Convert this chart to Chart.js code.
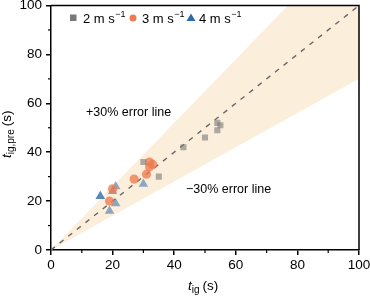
<!DOCTYPE html>
<html><head><meta charset="utf-8">
<script src="https://cdn.jsdelivr.net/npm/chart.js@4.4.1/dist/chart.umd.min.js"></script>
<style>html,body{margin:0;padding:0;background:#fff}#wrap{width:370px;height:296px}</style>
</head><body><div id="wrap"><canvas id="c" width="370" height="296"></canvas></div>
<script>
const seriesNames = ['2 m s', '3 m s', '4 m s'];
const tig2 = [30, 35, 43, 50, 54, 55, 54];
const pre2 = [36, 30, 42, 46, 52, 51, 49];
const tig3 = [19, 20, 27, 31, 32, 32, 33];
const pre3 = [20, 25, 29, 31, 34, 36, 35];
const tig4 = [16, 16, 19, 20, 21, 21, 30];
const pre4 = [22, 22, 16, 24, 26, 19, 27];
const bandX = [0, 100];
const upperFactor = 1.3, lowerFactor = 0.7;
const xTicks = [0, 20, 40, 60, 80, 100];
const yTicks = [0, 20, 40, 60, 80, 100];

const pts = (xs, ys) => xs.map((x, i) => ({x, y: ys[i]}));
const FONT = '"Liberation Sans", Arial, sans-serif';
const colSq = '#7a7a7a', colCi = '#ee7b50', colTr = '#2f6aaa';

const extras = {
  id: 'extras',
  afterDraw(chart) {
    const {ctx, chartArea: a, scales: {x, y}} = chart;
    ctx.save();
    ctx.strokeStyle = '#000'; ctx.lineWidth = 1.5;
    ctx.beginPath();
    ctx.moveTo(a.left, a.top); ctx.lineTo(a.right, a.top); ctx.lineTo(a.right, a.bottom);
    ctx.stroke();
    ctx.lineWidth = 1.2;
    for (let v = 10; v < 100; v += 20) {
      const px = x.getPixelForValue(v);
      ctx.beginPath(); ctx.moveTo(px, a.bottom); ctx.lineTo(px, a.bottom + 3); ctx.stroke();
      const py = y.getPixelForValue(v);
      ctx.beginPath(); ctx.moveTo(a.left, py); ctx.lineTo(a.left - 3, py); ctx.stroke();
    }
    ctx.fillStyle = '#000';
    ctx.textBaseline = 'alphabetic';
    ctx.font = '12.5px ' + FONT;
    ctx.fillText('+30% error line', 86, 116);
    ctx.fillText('\u221230% error line', 186, 193);
    const items = [
      {cx: 73, tx: 83, name: seriesNames[0], type: 'sq', col: colSq},
      {cx: 133, tx: 142, name: seriesNames[1], type: 'ci', col: colCi},
      {cx: 191, tx: 199, name: seriesNames[2], type: 'tr', col: colTr}
    ];
    const ly = 18;
    items.forEach(it => {
      ctx.fillStyle = it.col;
      if (it.type === 'sq') ctx.fillRect(it.cx - 3, ly - 3.5, 6.5, 6.5);
      else if (it.type === 'ci') { ctx.beginPath(); ctx.arc(it.cx, ly, 3.5, 0, Math.PI * 2); ctx.fill(); }
      else { ctx.beginPath(); ctx.moveTo(it.cx, ly - 4.5); ctx.lineTo(it.cx + 4.5, ly + 3); ctx.lineTo(it.cx - 4.5, ly + 3); ctx.closePath(); ctx.fill(); }
      ctx.fillStyle = '#000';
      ctx.font = '13px ' + FONT;
      ctx.fillText(it.name, it.tx, ly + 5);
      const w = ctx.measureText(it.name).width;
      ctx.font = '9px ' + FONT;
      ctx.fillText('\u22121', it.tx + w + 0.5, ly - 1);
    });
    ctx.font = 'italic 13.5px ' + FONT;
    let xx = 188;
    ctx.fillText('t', xx, 290);
    xx += ctx.measureText('t').width;
    ctx.font = '10px ' + FONT;
    ctx.fillText('ig', xx, 293);
    xx += ctx.measureText('ig').width + 2;
    ctx.font = '13.5px ' + FONT;
    ctx.fillText('(s)', xx + 1, 290);
    ctx.translate(11, 158);
    ctx.rotate(-Math.PI / 2);
    let yy = 0;
    ctx.font = 'italic 13.5px ' + FONT;
    ctx.fillText('t', yy, 0);
    yy += ctx.measureText('t').width;
    ctx.font = '10px ' + FONT;
    ctx.fillText('ig,pre', yy, 3);
    yy += ctx.measureText('ig,pre').width + 2;
    ctx.font = '13.5px ' + FONT;
    ctx.fillText('(s)', yy + 1, 0);
    ctx.restore();
  }
};

new Chart(document.getElementById('c'), {
  type: 'scatter',
  data: {
    datasets: [
      {label: '2', data: pts(tig2, pre2), pointStyle: 'rect', pointRadius: 4.3, backgroundColor: 'rgba(122,122,122,0.62)', borderWidth: 0, order: 0},
      {label: '3', data: pts(tig3, pre3), pointStyle: 'circle', pointRadius: 4.6, backgroundColor: 'rgba(238,123,80,0.78)', borderWidth: 0, order: 0},
      {label: '4', data: pts(tig4, pre4), pointStyle: 'triangle', pointRadius: 5.5, backgroundColor: 'rgba(47,106,170,0.55)', borderWidth: 0, order: 0},
      {type: 'line', label: 'up', data: bandX.map(v => ({x: v, y: v * upperFactor})), borderWidth: 0, pointRadius: 0, fill: '+1', backgroundColor: '#fbefdb', order: 5},
      {type: 'line', label: 'low', data: bandX.map(v => ({x: v, y: v * lowerFactor})), borderWidth: 0, pointRadius: 0, fill: false, order: 5},
      {type: 'line', label: 'diag', data: bandX.map(v => ({x: v, y: v})), borderWidth: 1.4, borderColor: '#666', borderDash: [5, 6], pointRadius: 0, fill: false, order: 3}
    ]
  },
  options: {
    responsive: false, animation: false,
    layout: {padding: {top: 5, right: 11, left: 0, bottom: 0}},
    plugins: {legend: {display: false}, tooltip: {enabled: false}},
    scales: {
      x: {
        type: 'linear', min: 0, max: 100,
        afterBuildTicks: s => { s.ticks = xTicks.map(v => ({value: v})); },
        afterFit: s => { s.height = 46; s.paddingLeft = 0; s.paddingRight = 0; },
        ticks: {color: '#000', font: {family: FONT, size: 13.5}, padding: 2, maxRotation: 0},
        grid: {drawOnChartArea: false, drawTicks: true, tickLength: 5, color: '#000', lineWidth: 1.5},
        border: {display: true, color: '#000', width: 1.5}
      },
      y: {
        type: 'linear', min: 0, max: 100,
        afterBuildTicks: s => { s.ticks = yTicks.map(v => ({value: v})); },
        afterFit: s => { s.width = 51; s.paddingTop = 0; s.paddingBottom = 0; },
        ticks: {color: '#000', font: {family: FONT, size: 13.5}, padding: 4},
        grid: {drawOnChartArea: false, drawTicks: true, tickLength: 5, color: '#000', lineWidth: 1.5},
        border: {display: true, color: '#000', width: 1.5}
      }
    }
  },
  plugins: [extras]
});
</script></body></html>
